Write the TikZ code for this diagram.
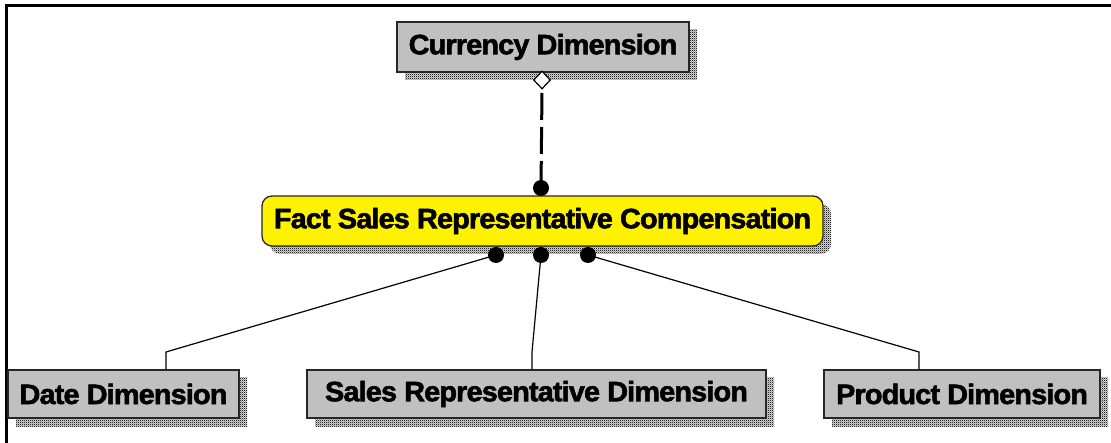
\documentclass[tikz,border=0pt]{standalone}
\usepackage{fontspec}
\setmainfont{Liberation Sans}
\newfontfamily\lblfont{Liberation Sans}[FakeStretch=1.03, FakeBold=2, LetterSpace=-3]
\usetikzlibrary{shapes.geometric,patterns,shadows}
\pgfdeclarepatternformonly{shadowdots}{\pgfqpoint{0pt}{0pt}}{\pgfqpoint{2pt}{2pt}}{\pgfqpoint{2pt}{2pt}}{%
  \pgfpathrectangle{\pgfqpoint{0pt}{0pt}}{\pgfqpoint{1.3pt}{1.3pt}}%
  \pgfpathrectangle{\pgfqpoint{1pt}{1pt}}{\pgfqpoint{1.3pt}{1.3pt}}%
  \pgfusepath{fill}}
\tikzset{
  shadowed/.style={drop shadow={shadow xshift=8pt, shadow yshift=-8pt, opacity=1, fill=none, pattern=shadowdots, pattern color=black!85}},
  labelfont/.style={font=\lblfont\bfseries\fontsize{28}{30}\selectfont},
  dimbox/.style={draw=black!85, line width=1.3pt, fill={rgb,255:red,192;green,192;blue,192}, rectangle, inner sep=0pt, shadowed, labelfont},
  factbox/.style={draw=black!85, line width=1.3pt, fill=yellow, rectangle, rounded corners=10pt, inner sep=0pt, shadowed, labelfont},
  enddot/.style={circle, fill=black, inner sep=0pt, minimum size=16pt},
  agg/.style={diamond, draw=black, line width=1.2pt, fill=white, inner sep=0pt, minimum width=17pt, minimum height=18pt},
  dashline/.style={line width=3pt, dash pattern=on 27pt off 7pt},
  link/.style={line width=1.2pt},
  frame/.style={line width=3pt}
}
\begin{document}
\begin{tikzpicture}[x=1pt,y=-1pt]
\useasboundingbox (0,0) rectangle (1111,443);
\draw[frame] (6.5,443) -- (6.5,5.5) -- (1111,5.5);
\node[dimbox, minimum width=292pt, minimum height=50pt] (cur) at (543,47) {Currency Dimension};
\node[factbox, minimum width=561pt, minimum height=50pt] (fact) at (542.5,221) {Fact Sales Representative Compensation};
\node[dimbox, minimum width=231pt, minimum height=48pt] (date) at (123.5,394) {Date Dimension};
\node[dimbox, minimum width=459pt, minimum height=48pt] (rep) at (536.5,394) {Sales Representative Dimension};
\node[dimbox, minimum width=276pt, minimum height=48pt] (prod) at (962,394) {Product Dimension};
\node[agg] (dia) at (542,80) {};
\node[enddot] (dtop) at (541,188) {};
\node[enddot] (d1) at (496,255) {};
\node[enddot] (d2) at (541,255) {};
\node[enddot] (d3) at (588,255) {};
\draw[dashline] (dtop.center) -- (dia.south);
\coordinate (b1) at (166,352);
\coordinate (b2) at (532,352);
\coordinate (b3) at (919,352);
\draw[link] (d1.center) -- (b1) -- (b1 |- date.north);
\draw[link] (d2.center) -- (b2) -- (b2 |- rep.north);
\draw[link] (d3.center) -- (b3) -- (b3 |- prod.north);
\end{tikzpicture}
\end{document}
